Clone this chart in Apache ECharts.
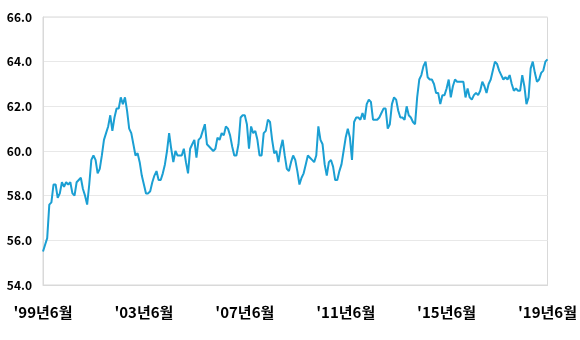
<!DOCTYPE html>
<html>
<head>
<meta charset="utf-8">
<script src="https://cdn.jsdelivr.net/npm/echarts@6/dist/echarts.min.js"></script>
<style>
  html, body { margin: 0; padding: 0; background: #fff; }
  #chart { width: 580px; height: 340px; }
</style>
</head>
<body>
<div id="chart"></div>
<script>
// monthly values, '99.6 ~ '19.6, split by 4-year periods
var v1999 = [55.5, 55.8, 56.1, 57.6, 57.7, 58.5, 58.5, 57.9, 58.1, 58.6, 58.4, 58.6,
  58.5, 58.6, 58.1, 58.0, 58.6, 58.7, 58.8, 58.3, 58.0, 57.6, 58.5, 59.6,
  59.8, 59.6, 59.0, 59.2, 59.8, 60.5, 60.8, 61.1, 61.6, 60.9, 61.5, 61.9,
  61.9, 62.4, 62.1, 62.4, 61.8, 61.0, 60.8, 60.3, 59.8, 59.9, 59.5, 58.9]
var v2003 = [58.5, 58.1, 58.1, 58.2, 58.6, 58.9, 59.1, 58.7, 58.7, 59.0, 59.4, 60.0,
  60.8, 60.1, 59.5, 60.0, 59.8, 59.8, 59.8, 60.1, 59.5, 59.0, 60.1, 60.3,
  60.5, 59.7, 60.5, 60.6, 60.9, 61.2, 60.3, 60.2, 60.1, 60.0, 60.1, 60.6,
  60.5, 60.8, 60.7, 61.1, 61.0, 60.7, 60.2, 59.8, 59.8, 60.3, 61.5, 61.6]
var v2007 = [61.6, 61.2, 60.1, 61.1, 60.8, 60.9, 60.5, 59.8, 59.8, 60.8, 60.9, 61.4,
  61.3, 60.5, 59.9, 60.0, 59.5, 60.1, 60.5, 59.8, 59.2, 59.1, 59.5, 59.8,
  59.6, 59.1, 58.5, 58.8, 59.0, 59.4, 59.8, 59.7, 59.6, 59.5, 59.8, 61.1,
  60.5, 60.3, 59.4, 58.9, 59.5, 59.6, 59.3, 58.7, 58.7, 59.1, 59.4, 60.0]
var v2011 = [60.6, 61.0, 60.6, 59.6, 61.3, 61.5, 61.5, 61.4, 61.7, 61.4, 62.1, 62.3,
  62.2, 61.4, 61.4, 61.4, 61.5, 61.7, 61.9, 61.9, 61.0, 61.2, 62.1, 62.4,
  62.3, 61.8, 61.5, 61.5, 61.4, 62.0, 61.6, 61.5, 61.3, 61.2, 62.4, 63.2,
  63.4, 63.8, 64.0, 63.3, 63.2, 63.2, 63.0, 62.6, 62.6, 62.1, 62.5, 62.5]
var v2015 = [62.8, 63.2, 62.4, 62.9, 63.2, 63.1, 63.1, 63.1, 63.1, 62.4, 62.8, 62.4,
  62.3, 62.5, 62.6, 62.5, 62.7, 63.1, 62.9, 62.6, 63.0, 63.2, 63.6, 64.0,
  63.9, 63.6, 63.4, 63.2, 63.3, 63.2, 63.4, 63.0, 62.7, 62.8, 62.7, 62.7,
  63.4, 62.9, 62.1, 62.4, 63.7, 64.0, 63.5, 63.1, 63.2, 63.5, 63.6, 64.0,
  64.1]

var values = v1999.concat(v2003, v2007, v2011, v2015)

var startYear = 1999
var startMonth = 6
var months = []
for (var i = 0; i < values.length; i++) {
  var m = startMonth - 1 + i
  var y = startYear + Math.floor(m / 12)
  months.push("'" + String(y).slice(2) + '년' + (m % 12 + 1) + '월')
}

var yMin = 54
var yMax = 66
var yStep = 2

var chart = echarts.init(document.getElementById('chart'), null, { renderer: 'canvas' })

var option = {
  animation: false,
  grid: {
    left: 43,
    right: 31,
    top: 17,
    bottom: 55,
    show: true,
    borderColor: '#d9d9d9',
    borderWidth: 1
  },
  xAxis: {
    type: 'category',
    data: months,
    boundaryGap: false,
    axisLine: { lineStyle: { color: '#d9d9d9' } },
    axisTick: { show: false },
    axisLabel: {
      interval: 47,
      margin: 20,
      color: '#000',
      fontSize: 15,
      fontWeight: 'bold',
      fontFamily: 'Noto Sans CJK KR'
    },
    splitLine: { show: false }
  },
  yAxis: {
    type: 'value',
    min: yMin,
    max: yMax,
    interval: yStep,
    axisLine: { show: true, lineStyle: { color: '#d9d9d9' } },
    axisTick: { show: false },
    axisLabel: {
      margin: 11,
      color: '#000',
      fontSize: 12,
      fontWeight: 'bold',
      fontFamily: 'Noto Sans CJK KR',
      formatter: function (v) { return v.toFixed(1) }
    },
    splitLine: { lineStyle: { color: '#e8e8e8' } }
  },
  series: [{
    type: 'line',
    data: values,
    symbol: 'none',
    lineStyle: { color: '#1b9fd3', width: 2 }
  }]
}

chart.setOption(option)
</script>
</body>
</html>
